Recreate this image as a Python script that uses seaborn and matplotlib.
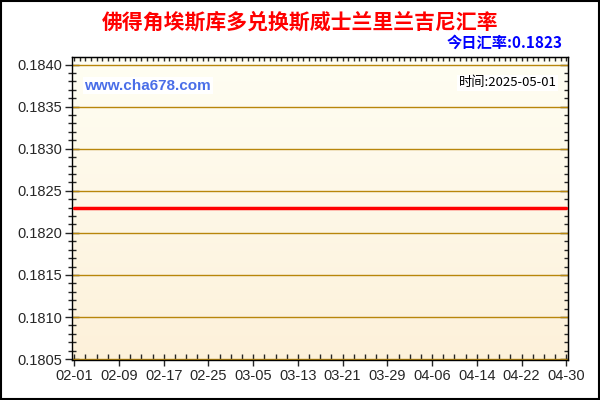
import numpy as np
import pandas as pd
import matplotlib
matplotlib.use("Agg")
import matplotlib.pyplot as plt
import matplotlib.dates as mdates
from matplotlib.ticker import MultipleLocator
import seaborn as sns

# données (taux CVE -> SZL, quotidien)
dates = pd.date_range("2025-02-01", "2025-04-30", freq="D")
rates = [
    0.1823, 0.1823, 0.1823, 0.1823, 0.1823, 0.1823, 0.1823, 0.1823, 0.1823, 0.1823,
    0.1823, 0.1823, 0.1823, 0.1823, 0.1823, 0.1823, 0.1823, 0.1823, 0.1823, 0.1823,
    0.1823, 0.1823, 0.1823, 0.1823, 0.1823, 0.1823, 0.1823, 0.1823, 0.1823, 0.1823,
    0.1823, 0.1823, 0.1823, 0.1823, 0.1823, 0.1823, 0.1823, 0.1823, 0.1823, 0.1823,
    0.1823, 0.1823, 0.1823, 0.1823, 0.1823, 0.1823, 0.1823, 0.1823, 0.1823, 0.1823,
    0.1823, 0.1823, 0.1823, 0.1823, 0.1823, 0.1823, 0.1823, 0.1823, 0.1823, 0.1823,
    0.1823, 0.1823, 0.1823, 0.1823, 0.1823, 0.1823, 0.1823, 0.1823, 0.1823, 0.1823,
    0.1823, 0.1823, 0.1823, 0.1823, 0.1823, 0.1823, 0.1823, 0.1823, 0.1823, 0.1823,
    0.1823, 0.1823, 0.1823, 0.1823, 0.1823, 0.1823, 0.1823, 0.1823, 0.1823,
]
yticks = [0.1805, 0.1810, 0.1815, 0.1820, 0.1825, 0.1830, 0.1835, 0.1840]
titre = "佛得角埃斯库多兑换斯威士兰里兰吉尼汇率"
taux_jour = "今日汇率:0.1823"
date_maj = "时间:2025-05-01"
site = "www.cha678.com"

df = pd.DataFrame({"date": dates, "taux": rates})

sns.set_style("white")
plt.rcParams['font.family'] = ['Liberation Sans', 'Noto Sans CJK SC', 'DejaVu Sans']
cjk = ['Noto Sans CJK SC', 'DejaVu Sans']

fig = plt.figure(figsize=(6, 4), dpi=100)
ax = fig.add_axes([0.12, 0.10, 0.827, 0.7575])

# fond en dégradé
grad = np.linspace(0, 1, 256).reshape(-1, 1)
cmap = matplotlib.colors.LinearSegmentedColormap.from_list("fond", ["#fdf1da", "#fffef3"])
ax.imshow(grad, aspect="auto", cmap=cmap, origin="lower",
          extent=[0, 1, 0, 1], transform=ax.transAxes, zorder=0)

for y in yticks:
    ax.axhline(y, color="#b8860b", lw=1, zorder=1)

sns.lineplot(data=df, x="date", y="taux", color="#ff0000", lw=2.5, ax=ax, zorder=3)

x0 = dates[0] - pd.Timedelta(days=0.4)
x1 = dates[-1] + pd.Timedelta(days=0.35)
ax.set_xlim(x0, x1)
ax.set_ylim(0.18049, 0.18409)
ax.set_xlabel("")
ax.set_ylabel("")

ax.set_xticks(dates[::8])
ax.set_xticks(dates[::2], minor=True)
ax.xaxis.set_major_formatter(mdates.DateFormatter("%m-%d"))
ax.set_yticks(yticks)
ax.yaxis.set_minor_locator(MultipleLocator(0.0001))
ax.set_yticklabels([f"{v:.4f}" for v in yticks])

ax.tick_params(axis="x", which="major", direction="inout", length=9, width=1,
               labelsize=10.5, pad=2, bottom=True)
ax.tick_params(axis="x", which="minor", direction="in", length=4, width=1, bottom=True)
ax.tick_params(axis="y", which="major", direction="inout", length=10, width=1,
               labelsize=10.5, pad=2, left=True, right=False)
ax.tick_params(axis="y", which="minor", direction="inout", length=6, width=1,
               left=True, right=False)

# graduations du haut, tous les jours
top = ax.secondary_xaxis("top")
top.set_xticks(dates)
top.tick_params(direction="in", length=3, width=1, labeltop=False)
top.set_xticklabels([])

# graduations de droite, vers l'intérieur
droite = ax.secondary_yaxis("right")
droite.set_yticks(yticks)
droite.yaxis.set_minor_locator(MultipleLocator(0.0001))
droite.tick_params(which="major", direction="in", length=6, width=1, labelright=False)
droite.tick_params(which="minor", direction="in", length=3, width=1, labelright=False)
droite.set_yticklabels([])

for s in ax.spines.values():
    s.set_color("black")
    s.set_linewidth(1)

fig.text(0.5, 0.945, titre, color="#ff0000", fontsize=15, fontweight="bold",
         ha="center", va="center", family=cjk)
fig.text(0.938, 0.893, taux_jour, color="#0000ff", fontsize=11, fontweight="bold",
         ha="right", va="center", family=cjk)
ax.text(0.025, 0.905, site, transform=ax.transAxes, color="#4a6ee8", fontsize=11,
        fontweight="bold", ha="left", va="center", zorder=4,
        bbox=dict(facecolor="white", edgecolor="none", pad=1))
ax.text(0.977, 0.915, date_maj, transform=ax.transAxes, color="black", fontsize=9.5,
        ha="right", va="center", family=cjk, zorder=4,
        bbox=dict(facecolor="white", edgecolor="none", pad=1))

# cadre noir autour de l'image
fig.patches.append(plt.Rectangle((0.0015, 0.0025), 0.997, 0.995, transform=fig.transFigure,
                                 fill=False, edgecolor="black", lw=1.5))

fig.savefig("out.png", dpi=100)
